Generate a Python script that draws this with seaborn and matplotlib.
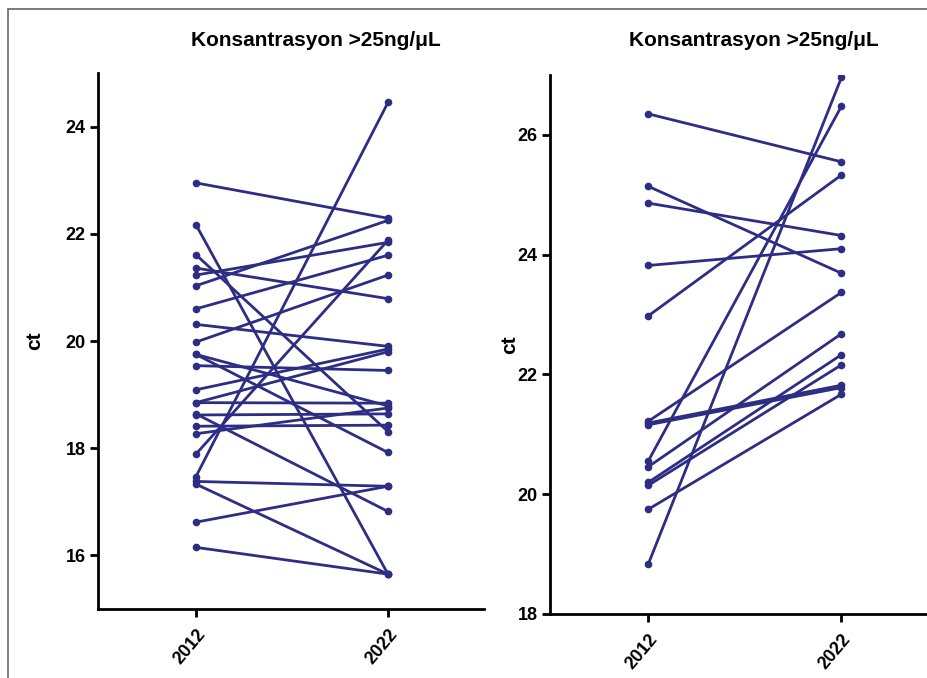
import matplotlib
matplotlib.use("Agg")
import matplotlib.pyplot as plt
import seaborn as sns
import pandas as pd
from matplotlib.patches import Rectangle

years = ["2012", "2022"]
title = "Konsantrasyon >25ng/\u03bcL"

# left panel, paired ct values
left_2012 = [22.95, 22.17, 21.61, 21.36, 21.23, 21.03, 20.60, 20.31, 19.98,
             19.75, 19.75, 19.54, 19.09, 18.85, 18.85, 18.64, 18.62, 18.41,
             18.27, 17.89, 17.47, 17.38, 17.33, 16.62, 16.15]
left_2022 = [22.29, 15.65, 18.31, 20.79, 21.84, 22.25, 21.60, 19.90, 21.23,
             18.79, 17.92, 19.45, 19.85, 18.84, 19.80, 16.82, 18.64, 18.43,
             18.75, 21.88, 24.45, 17.29, 15.65, 17.29, 15.65]

# right panel
right_2012 = [26.35, 25.14, 24.86, 23.82, 22.98, 21.22, 21.19, 21.16,
              20.56, 20.46, 20.20, 20.15, 19.75, 18.84]
right_2022 = [25.55, 23.69, 24.32, 24.10, 25.33, 23.37, 21.82, 21.78,
              26.48, 22.68, 22.33, 22.16, 21.67, 26.96]

navy = "#2D2E83"


def to_long(before, after):
    rows = []
    for i, (v0, v1) in enumerate(zip(before, after)):
        rows.append({"pair": i, "year": 0, "ct": v0})
        rows.append({"pair": i, "year": 1, "ct": v1})
    return pd.DataFrame(rows)


def main():
    sns.set_style("ticks")
    plt.rcParams["font.family"] = ["Liberation Sans Narrow", "Liberation Sans", "DejaVu Sans"]
    plt.rcParams["font.weight"] = "bold"
    plt.rcParams["text.color"] = "black"
    plt.rcParams["xtick.color"] = "black"
    plt.rcParams["ytick.color"] = "black"
    plt.rcParams["axes.labelcolor"] = "black"

    W, H = 927, 678
    fig = plt.figure(figsize=(W / 100, H / 100), dpi=100)
    ax1 = fig.add_axes([98 / W, 1 - 609 / H, 386 / W, 536 / H])
    ax2 = fig.add_axes([550 / W, 1 - 614 / H, 388 / W, 539 / H])

    panels = [(ax1, to_long(left_2012, left_2022), (15, 25), [16, 18, 20, 22, 24], 316),
              (ax2, to_long(right_2012, right_2022), (18, 27), [18, 20, 22, 24, 26], 754)]

    for ax, df, ylim, yticks, tx in panels:
        sns.lineplot(data=df, x="year", y="ct", units="pair", estimator=None,
                     color=navy, linewidth=2, marker="o", markersize=5.5,
                     markeredgewidth=0, ax=ax)
        ax.set_xlim(-0.51, 1.5)
        ax.set_ylim(*ylim)
        ax.set_yticks(yticks)
        ax.set_xticks([0, 1])
        ax.set_xticklabels(years, rotation=50, ha="right", rotation_mode="anchor",
                           fontsize=13, fontweight="bold")
        ax.set_yticklabels([str(t) for t in yticks], fontsize=13, fontweight="bold")
        ax.set_xlabel("")
        ax.set_ylabel("ct", fontsize=15, fontweight="bold")
        for s in ["left", "bottom"]:
            ax.spines[s].set_linewidth(2)
            ax.spines[s].set_color("black")
        sns.despine(ax=ax)
        ax.tick_params(axis="both", length=6, width=2, pad=3)
        ax.tick_params(axis="x", pad=6)
        fig.text(tx / W, 1 - 40 / H, title, ha="center", va="center",
                 fontsize=15, fontweight="bold")

    ax1.yaxis.set_label_coords(-0.14, 0.5)
    ax2.yaxis.set_label_coords(-0.08, 0.5)

    # grey frame around the figure
    fig.patches.append(Rectangle((8 / W, -0.1), 1.2, 1.1 - 9 / H, transform=fig.transFigure,
                                 fill=False, edgecolor="#666666", linewidth=1.2))

    fig.savefig("out.png", dpi=100)


if __name__ == "__main__":
    main()
